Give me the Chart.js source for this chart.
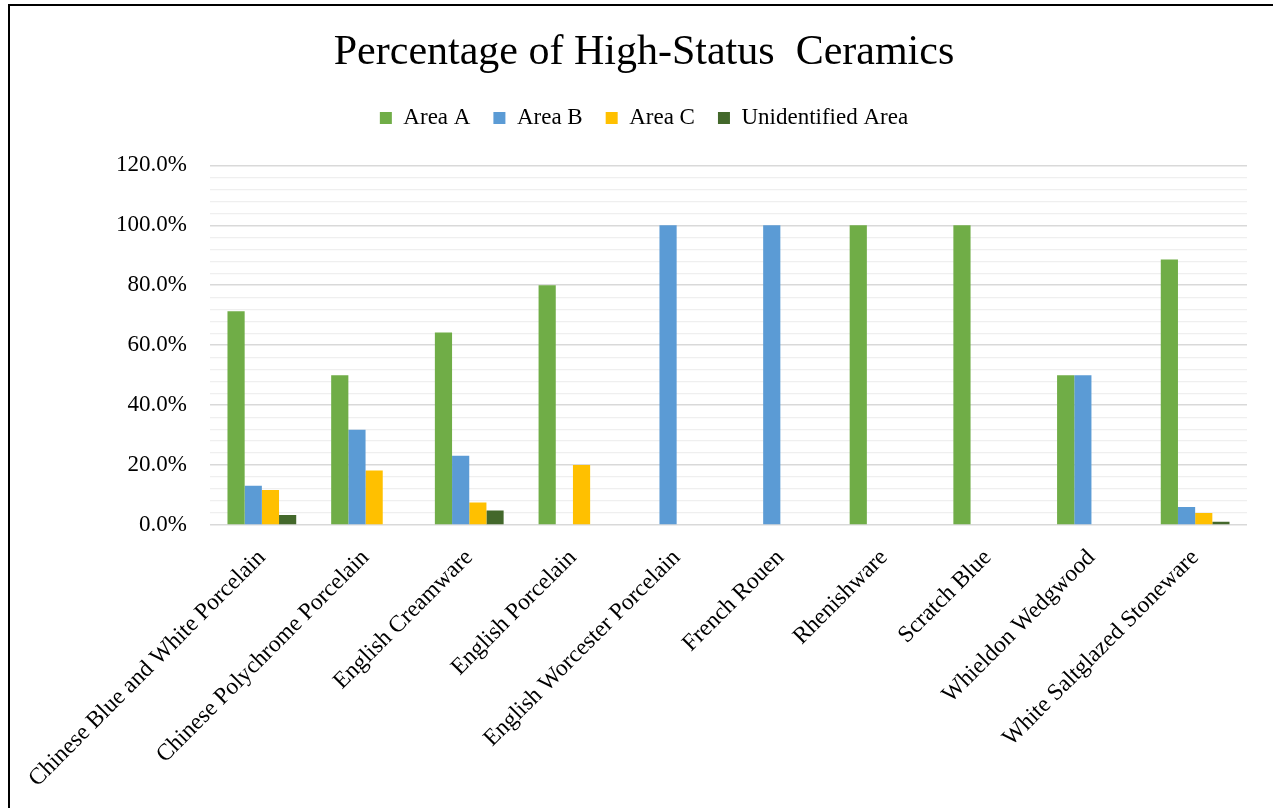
<!DOCTYPE html>
<html>
<head>
<meta charset="utf-8">
<title>Percentage of High-Status Ceramics</title>
<script src="https://cdn.jsdelivr.net/npm/chart.js@4/dist/chart.umd.min.js"></script>
<style>
  html, body { margin: 0; padding: 0; background: #fff; overflow: hidden; }
  body { width: 1273px; height: 808px; position: relative; }
  #frame {
    position: absolute; left: 8px; top: 4px;
    width: 1268px; height: 816px;
    border: 2px solid #000;
  }
  #frame canvas { display: block; }
</style>
</head>
<body>
<div id="frame"><canvas id="ceramics"></canvas></div>
<script>
// ware types along the x axis
const wares = [
  'Chinese Blue and White Porcelain',
  'Chinese Polychrome Porcelain',
  'English Creamware',
  'English Porcelain',
  'English Worcester Porcelain',
  'French Rouen',
  'Rhenishware',
  'Scratch Blue',
  'Whieldon Wedgwood',
  'White Saltglazed Stoneware'
]
// share of each ware found per area (percent, null = none found)
const areaA = [71.3, 50.0, 64.2, 80.0, null, null, 100, 100, 50.0, 88.6]
const areaB = [13.1, 31.8, 23.1, null, 100, 100, null, null, 50.0, 6.0]
const areaC = [11.7, 18.2, 7.5, 20.0, null, null, null, null, null, 4.0]
const areaUnknown = [3.3, null, 4.8, null, null, null, null, null, null, 1.1]

const serif = "'Liberation Serif', 'Times New Roman', serif"
const pct = v => v == null ? null : v / 100

// pushes the plot down a little below the legend row
const legendGap = {
  id: 'legendGap',
  beforeInit(chart){
    const fit = chart.legend.fit
    chart.legend.fit = function(){ fit.call(this); this.height += 26 }
  }
}

function isMajor(v){ return Math.round(v * 100) % 20 === 0 }

const cv = document.getElementById('ceramics')
cv.style.width = '1268px'; cv.style.height = '816px'

new Chart(cv.getContext('2d'), {
  type: 'bar',
  data: {
    labels: wares,
    datasets: [
      {label: 'Area A', data: areaA.map(pct), backgroundColor: '#70AD47'},
      {label: 'Area B', data: areaB.map(pct), backgroundColor: '#5B9BD5'},
      {label: 'Area C', data: areaC.map(pct), backgroundColor: '#FFC000'},
      {label: 'Unidentified Area', data: areaUnknown.map(pct), backgroundColor: '#43682B'}
    ]
  },
  options: {
    responsive: false,
    animation: false,
    devicePixelRatio: 1,
    categoryPercentage: 0.663,
    barPercentage: 1.0,
    layout: {padding: {left: 31, right: 31, top: 0, bottom: 0}},
    plugins: {
      title: {
        display: true,
        text: 'Percentage of High-Status  Ceramics',
        color: '#000',
        font: {family: serif, size: 42, weight: 'normal'},
        padding: {top: 22, bottom: 5}
      },
      legend: {
        position: 'top',
        labels: {
          color: '#000',
          font: {family: serif, size: 23},
          boxWidth: 12,
          boxHeight: 12,
          padding: 23
        }
      },
      tooltip: {enabled: false}
    },
    scales: {
      x: {
        grid: {display: false},
        border: {display: false},
        ticks: {
          color: '#000',
          font: {family: serif, size: 23.5},
          autoSkip: false,
          maxRotation: 45,
          minRotation: 45,
          padding: 11
        },
        // long slanted labels may hang past the plot's left edge
        afterFit(s){ s.height = 297; s.paddingLeft = 0 }
      },
      y: {
        min: 0,
        max: 1.2,
        border: {display: false},
        grid: {
          drawTicks: false,
          color: c => isMajor(c.tick.value) ? '#d9d9d9' : '#efefef',
          lineWidth: c => isMajor(c.tick.value) ? 1.6 : 1.2
        },
        ticks: {
          stepSize: 0.04,
          autoSkip: false,
          color: '#000',
          font: {family: serif, size: 23},
          padding: 23,
          callback: v => isMajor(v) ? (v * 100).toFixed(1) + '%' : ''
        },
        afterFit(s){ s.width = 169 }
      }
    }
  },
  plugins: [legendGap]
})
</script>
</body>
</html>
